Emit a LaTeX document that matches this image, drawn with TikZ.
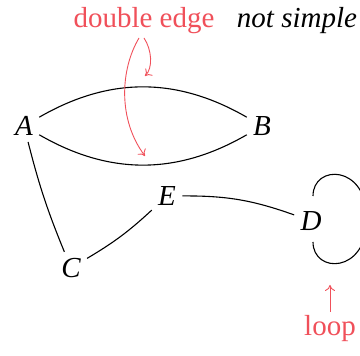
\documentclass[tikz,border=0pt]{standalone}
\usepackage{fontspec}
\setmainfont{Liberation Serif}
\usetikzlibrary{arrows.meta}
\definecolor{hl}{HTML}{F0505A}
\begin{document}
\begin{tikzpicture}[x=0.5pt,y=-0.5pt,
  vtx/.style={font=\fontsize{14.5}{16}\selectfont\itshape, inner sep=3pt},
  lbl/.style={font=\fontsize{14.5}{16}\selectfont, anchor=base, inner sep=0pt},
  edg/.style={line width=0.55pt, black},
  note/.style={draw=hl, line width=0.45pt, -{To[length=3pt,width=5pt]}}]
\useasboundingbox (0,0) rectangle (360,356);
\node[vtx] (A) at (24,126) {A};
\node[vtx] (B) at (262,126) {B};
\node[vtx] (E) at (167,196) {E};
\node[vtx] (D) at (311,221) {D};
\node[vtx] (C) at (71,268) {C};
\node[lbl, text=hl] (dbl) at (144,28) {double edge};
\node[lbl, font=\fontsize{14.5}{16}\selectfont\itshape] (ns) at (297,28) {not simple};
\node[lbl, text=hl] (lp) at (330,336) {loop};
\draw[edg] (A) to[bend left=30] (B);
\draw[edg] (A) to[bend right=30] (B);
\draw[edg] (A) to[bend right=4] (C);
\draw[edg] (C) to[bend right=6] (E);
\draw[edg] (E) to[bend left=10] (D);
\draw[edg] ([shift={(2,-25)}]D.center) .. controls +(0,-32) and +(0,-55) .. ([shift={(56,-2)}]D.center)
  .. controls +(0,55) and +(0,32) .. ([shift={(2,21)}]D.center);
\coordinate (t1) at (145,76);
\coordinate (t2) at (145,156);
\draw[note] (dbl.south |- 0,38) .. controls (152,50) and (153,68) .. (t1);
\draw[note] (139,38) .. controls (120,70) and (118,120) .. (t2);
\draw[note] (lp.north |- 0,312) -- (lp.north |- 0,285);
\end{tikzpicture}
\end{document}
